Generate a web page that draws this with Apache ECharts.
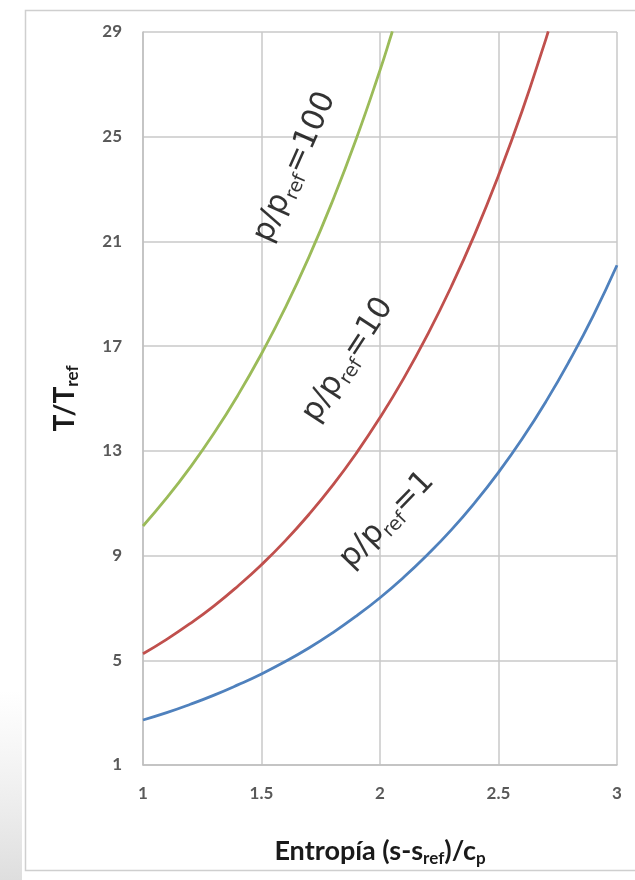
<!DOCTYPE html>
<html>
<head>
<meta charset="utf-8">
<script src="https://cdn.jsdelivr.net/npm/echarts@6/dist/echarts.min.js"></script>
<style>html,body{margin:0;padding:0;background:#fff;}#c{width:635px;height:880px;}</style>
</head>
<body>
<div id="c"></div>
<script>
// Entropy values (s - s_ref)/c_p
const entropy = [1.0, 1.1, 1.2, 1.3, 1.4, 1.5, 1.6, 1.7, 1.8, 1.9, 2.0, 2.1, 2.2, 2.3, 2.4, 2.5, 2.6, 2.7, 2.8, 2.9, 3.0];
// T/T_ref for p/p_ref = 1
const tP1 = [2.72, 3.00, 3.32, 3.67, 4.06, 4.48, 4.95, 5.47, 6.05, 6.69, 7.39, 8.17, 9.03, 9.97, 11.02, 12.18, 13.46, 14.88, 16.45, 18.17, 20.09];
// T/T_ref for p/p_ref = 10
const entropyP10 = [1.0, 1.1, 1.2, 1.3, 1.4, 1.5, 1.6, 1.7, 1.8, 1.9, 2.0, 2.1, 2.2, 2.3, 2.4, 2.5, 2.6, 2.7, 2.71];
const tP10 = [5.25, 5.80, 6.41, 7.08, 7.83, 8.65, 9.56, 10.57, 11.68, 12.91, 14.27, 15.77, 17.43, 19.26, 21.28, 23.52, 25.99, 28.73, 29.02];
// T/T_ref for p/p_ref = 100
const entropyP100 = [1.0, 1.1, 1.2, 1.3, 1.4, 1.5, 1.6, 1.7, 1.8, 1.9, 2.0, 2.05, 2.052];
const tP100 = [10.13, 11.20, 12.38, 13.68, 15.12, 16.71, 18.46, 20.40, 22.55, 24.92, 27.54, 28.96, 29.02];

const xTicks = [1, 1.5, 2, 2.5, 3];
const yTicks = [1, 5, 9, 13, 17, 21, 25, 29];

const curveLabels = ['100', '10', '1'];
const labelPos = [[1.641, 23.84], [1.865, 16.47], [2.03, 10.36]];
const labelRot = [66, 57, 46];

const colors = {p1: '#4f81bd', p10: '#c0504d', p100: '#9bbb59'};

const chart = echarts.init(document.getElementById('c'), null, {renderer: 'canvas'});

function pairs(xs, ys) { return xs.map((x, i) => [x, ys[i]]); }

const lineBase = {type: 'line', showSymbol: false, symbol: 'none', smooth: true, clip: true, z: 3};

const labelRich = {
  m: {fontFamily: 'DejaVu Sans', fontSize: 31, color: '#000', lineHeight: 38},
  s: {fontFamily: 'DejaVu Sans', fontSize: 19, color: '#000', lineHeight: 14, verticalAlign: 'bottom'}
};

const annotationSeries = curveLabels.map((v, i) => ({
  type: 'scatter',
  data: [labelPos[i]],
  symbolSize: 1,
  itemStyle: {color: 'rgba(0,0,0,0)'},
  z: 5,
  silent: true,
  label: {
    show: true,
    position: 'inside',
    rotate: labelRot[i],
    align: 'center',
    verticalAlign: 'middle',
    formatter: '{m|p/p}{s|ref}{m|=' + v + '}',
    rich: labelRich
  }
}));

chart.setOption({
  backgroundColor: '#ffffff',
  animation: false,
  graphic: [
    {type: 'rect', left: 0, top: 690, shape: {width: 22, height: 190},
     style: {fill: new echarts.graphic.LinearGradient(0, 0, 0, 1, [{offset: 0, color: 'rgba(230,230,230,0)'}, {offset: 1, color: 'rgba(222,222,222,1)'}])}, z: -1},
    {type: 'rect', left: 23, top: 8, shape: {width: 640, height: 860},
     style: {fill: 'none', stroke: '#cfcfcf', lineWidth: 1.5}, z: -1}
  ],
  grid: {left: 143, right: 18, top: 32, bottom: 115, containLabel: false},
  xAxis: {
    type: 'value', min: 1, max: 3, interval: 0.5,
    axisLine: {show: true, lineStyle: {color: '#bfbfbf', width: 1.5}},
    axisTick: {show: false},
    splitLine: {show: true, lineStyle: {color: '#c8c8c8', width: 1.5}},
    axisLabel: {color: '#595959', fontFamily: 'Lato', fontWeight: 'bold', fontSize: 17, margin: 20,
      formatter: v => String(v)},
    name: '{m|Entropía (s-s}{s|ref}{m|)/c}{s|p}',
    nameLocation: 'middle', nameGap: 70,
    nameTextStyle: {
      rich: {
        m: {fontFamily: 'Lato', fontWeight: 'bold', fontSize: 27, color: '#1a1a1a', lineHeight: 32},
        s: {fontFamily: 'Lato', fontWeight: 'bold', fontSize: 17, color: '#1a1a1a', lineHeight: 12, verticalAlign: 'bottom'}
      }
    }
  },
  yAxis: {
    type: 'value', min: 1, max: 29, interval: 4,
    axisLine: {show: true, lineStyle: {color: '#bfbfbf', width: 1.5}},
    axisTick: {show: false},
    splitLine: {show: true, lineStyle: {color: '#c8c8c8', width: 1.5}},
    axisLabel: {color: '#595959', fontFamily: 'Lato', fontWeight: 'bold', fontSize: 17, margin: 21},
    name: '{m|T/T}{s|ref}',
    nameLocation: 'middle', nameGap: 62, nameRotate: 90,
    nameTextStyle: {
      rich: {
        m: {fontFamily: 'Lato', fontWeight: 'bold', fontSize: 28, color: '#1a1a1a', lineHeight: 32},
        s: {fontFamily: 'Lato', fontWeight: 'bold', fontSize: 17, color: '#1a1a1a', lineHeight: 12, verticalAlign: 'bottom'}
      }
    }
  },
  series: [
    Object.assign({}, lineBase, {name: 'p/pref=1', data: pairs(entropy, tP1), lineStyle: {color: colors.p1, width: 2.8}}),
    Object.assign({}, lineBase, {name: 'p/pref=10', data: pairs(entropyP10, tP10), lineStyle: {color: colors.p10, width: 2.8}}),
    Object.assign({}, lineBase, {name: 'p/pref=100', data: pairs(entropyP100, tP100), lineStyle: {color: colors.p100, width: 2.8}})
  ].concat(annotationSeries)
});
</script>
</body>
</html>
